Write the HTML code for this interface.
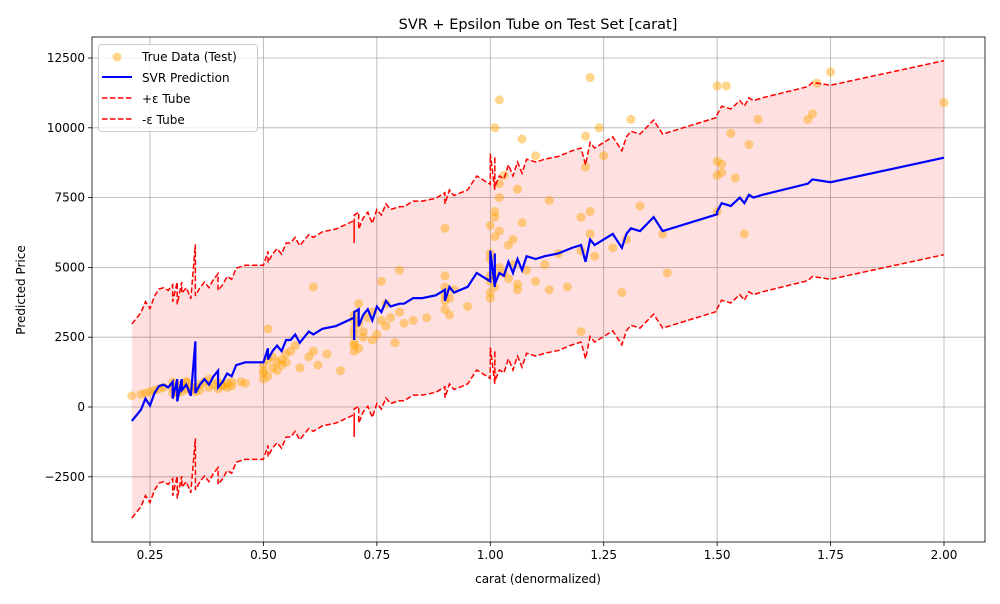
<!DOCTYPE html>
<html><head><meta charset="utf-8"><style>
body{margin:0;background:#fff;font-family:"DejaVu Sans","Liberation Sans",sans-serif}
svg text{font-family:"DejaVu Sans","Liberation Sans",sans-serif}
</style></head><body>
<svg id="chart" width="1000" height="600" xmlns="http://www.w3.org/2000/svg"></svg>
<script>
const xTicks=[0.25,0.50,0.75,1.00,1.25,1.50,1.75,2.00];
const xTickLabels=["0.25","0.50","0.75","1.00","1.25","1.50","1.75","2.00"];
const yTicks=[-2500,0,2500,5000,7500,10000,12500];
const yTickLabels=["−2500","0","2500","5000","7500","10000","12500"];
const epsilon=3475;
const predX=[0.21,0.23,0.24,0.25,0.26,0.27,0.28,0.29,0.30,0.30,0.31,0.31,0.32,0.32,0.33,0.34,0.35,0.35,0.36,0.37,0.38,0.39,0.40,0.40,0.41,0.42,0.43,0.44,0.46,0.50,0.51,0.51,0.52,0.53,0.54,0.55,0.56,0.57,0.58,0.60,0.61,0.63,0.66,0.70,0.70,0.70,0.71,0.71,0.72,0.73,0.74,0.75,0.76,0.77,0.78,0.80,0.81,0.83,0.85,0.88,0.90,0.90,0.91,0.92,0.95,0.97,1.00,1.00,1.01,1.01,1.01,1.02,1.03,1.04,1.05,1.06,1.07,1.08,1.10,1.12,1.15,1.18,1.20,1.21,1.22,1.23,1.25,1.27,1.29,1.30,1.31,1.33,1.36,1.38,1.50,1.50,1.51,1.53,1.55,1.56,1.57,1.58,1.60,1.70,1.71,1.75,2.00];
const predY=[-500,-100,300,50,500,750,800,700,900,300,1000,200,1000,600,800,400,2350,500,800,1000,800,1100,1300,700,900,1200,1100,1500,1600,1600,2100,1700,2000,2200,2000,2400,2400,2600,2300,2700,2600,2800,2900,3200,2400,3400,3500,2900,3300,3500,3100,3600,3400,3800,3600,3700,3700,3900,3900,4000,4200,3800,4300,4100,4300,4800,4500,5600,4300,5500,4400,4800,4700,5200,4800,5300,4900,5400,5300,5400,5500,5700,5800,5200,6000,5800,6000,6200,5700,6200,6400,6300,6800,6300,6900,7000,7300,7200,7500,7300,7600,7500,7600,8000,8150,8050,8930];
const trueX=[0.21,0.23,0.24,0.25,0.26,0.27,0.28,0.30,0.30,0.31,0.32,0.33,0.34,0.35,0.36,0.37,0.38,0.39,0.40,0.41,0.42,0.43,0.45,0.46,0.50,0.50,0.51,0.52,0.53,0.54,0.55,0.56,0.57,0.58,0.60,0.61,0.62,0.64,0.67,0.70,0.70,0.70,0.71,0.72,0.73,0.74,0.75,0.76,0.77,0.78,0.79,0.80,0.81,0.83,0.86,0.90,0.90,0.90,0.91,0.92,0.95,1.00,1.00,1.00,1.01,1.01,1.02,1.02,1.03,1.04,1.05,1.06,1.07,1.08,1.10,1.12,1.13,1.15,1.17,1.20,1.20,1.21,1.22,1.23,1.25,1.27,1.29,1.30,1.31,1.33,1.38,1.39,1.50,1.50,1.50,1.51,1.52,1.53,1.54,1.56,1.57,1.59,1.70,1.71,1.72,1.75,2.00,1.02,1.07,0.90,1.22,1.01,0.61,0.51,0.80,1.13,1.24,0.38,0.33,
0.30,0.31,0.32,0.33,0.34,0.35,0.36,0.40,0.41,0.42,0.43,0.50,0.50,0.51,0.52,0.53,0.54,0.55,0.70,0.70,0.70,0.70,0.71,0.71,0.72,0.90,0.90,0.91,1.00,1.00,1.00,1.00,1.01,1.01,1.01,1.02,1.03,1.04,1.05,1.06,0.76,0.77,0.74,1.20,1.21,1.22,1.50,1.51,1.02,1.06,1.10];
const trueY=[400,450,500,550,600,650,700,700,900,500,800,900,600,700,800,900,700,800,900,750,850,900,900,850,1200,1500,1700,1800,1600,1700,1900,2000,2200,1400,1800,2000,1500,1900,1300,2000,2600,3300,3000,2700,3200,2400,2600,3100,2900,3200,2300,3400,3000,3100,3200,3500,4000,4700,3900,4200,3600,4500,5500,6500,4300,7000,5000,7500,4800,5800,6000,4400,6600,4900,4500,5100,4200,5500,4300,5600,6800,8600,6200,5400,9000,5700,4100,6000,10300,7200,6200,4800,8800,7000,11500,8400,11500,9800,8200,6200,9400,10300,10300,10500,11600,12000,10900,8000,9600,6400,11800,10000,4300,2800,4900,7400,10000,1000,900,
500,600,550,650,700,550,600,650,800,700,750,1000,1300,1100,1400,1300,1500,1600,2200,2300,2800,3100,2100,3700,2500,3800,4300,3300,3900,4100,4700,5300,6100,6800,4700,6300,8300,4600,5100,4200,4500,3700,3400,2700,9700,7000,8300,8700,11000,7800,9000,8400];
const X0=92,X1=985,Y0=37,Y1=542;
const xs=v=>150+(v-0.25)*(944-150)/1.75;
const ys=v=>407-v*(407-58)/12500;
const svg=document.getElementById('chart');
const NS='http://www.w3.org/2000/svg';
function mk(tag,attrs,parent){const e=document.createElementNS(NS,tag);for(const k in attrs)e.setAttribute(k,attrs[k]);(parent||svg).appendChild(e);return e;}
xTicks.forEach((t,i)=>{const x=xs(t);
const g=mk('line',{x1:x,x2:x,y1:Y0,y2:Y1,stroke:'#b0b0b0','stroke-width':0.8});

mk('line',{x1:x,x2:x,y1:Y1,y2:Y1+4,stroke:'#000','stroke-width':0.8});
const tx=mk('text',{x:x,y:Y1+17,'font-size':12,'text-anchor':'middle'});tx.textContent=xTickLabels[i];
});
yTicks.forEach((t,i)=>{const y=ys(t);
const g=mk('line',{x1:X0,x2:X1,y1:y,y2:y,stroke:'#b0b0b0','stroke-width':0.8});

mk('line',{x1:X0-4,x2:X0,y1:y,y2:y,stroke:'#000','stroke-width':0.8});
const tx=mk('text',{x:X0-7,y:y+4,'font-size':12,'text-anchor':'end'});tx.textContent=yTickLabels[i];
});
let up=predX.map((x,i)=>xs(x)+','+ys(predY[i]+epsilon));
let lo=predX.map((x,i)=>xs(x)+','+ys(predY[i]-epsilon)).reverse();
const fill=mk('polygon',{points:up.concat(lo).join(' '),fill:'#ff0000','fill-opacity':0.12});

trueX.forEach((x,i)=>{const c=mk('circle',{cx:xs(x),cy:ys(trueY[i]),r:4.5,fill:'#ffa500','fill-opacity':0.45});
});
const pl=(off)=>predX.map((x,i)=>xs(x)+','+ys(predY[i]+off)).join(' ');
const u=mk('polyline',{points:pl(epsilon),fill:'none',stroke:'#ff0000','stroke-width':1.5,'stroke-dasharray':'5.5,2.5'});

const l=mk('polyline',{points:pl(-epsilon),fill:'none',stroke:'#ff0000','stroke-width':1.5,'stroke-dasharray':'5.5,2.5'});

const p=mk('polyline',{points:pl(0),fill:'none',stroke:'#0000ff','stroke-width':2.2});

const fr=mk('rect',{x:X0,y:Y0,width:X1-X0,height:Y1-Y0,fill:'none',stroke:'#000','stroke-width':0.8});

</script>
<svg width="1000" height="600" style="position:absolute;left:0;top:0">
<text x="538" y="29" font-size="14.5" text-anchor="middle">SVR + Epsilon Tube on Test Set [carat]</text>
<text x="538" y="583" font-size="12" text-anchor="middle">carat (denormalized)</text>
<text transform="translate(25,290) rotate(-90)" font-size="12" text-anchor="middle">Predicted Price</text>
<g>
<rect x="98.5" y="44.5" width="159" height="87" rx="3" fill="#fff" fill-opacity="0.8" stroke="#ccc"/>
<circle cx="117" cy="57" r="4.5" fill="#ffa500" fill-opacity="0.45"/>
<text x="142" y="61" font-size="12">True Data (Test)</text>
<line x1="102" x2="132" y1="77" y2="77" stroke="#0000ff" stroke-width="2"/>
<text x="142" y="82" font-size="12">SVR Prediction</text>
<line x1="102" x2="132" y1="98" y2="98" stroke="#ff0000" stroke-width="1.5" stroke-dasharray="5.5,2.5"/>
<text x="142" y="103" font-size="12">+ε Tube</text>
<line x1="102" x2="132" y1="119" y2="119" stroke="#ff0000" stroke-width="1.5" stroke-dasharray="5.5,2.5"/>
<text x="142" y="124" font-size="12">-ε Tube</text>
</g>
</svg>
</body></html>
